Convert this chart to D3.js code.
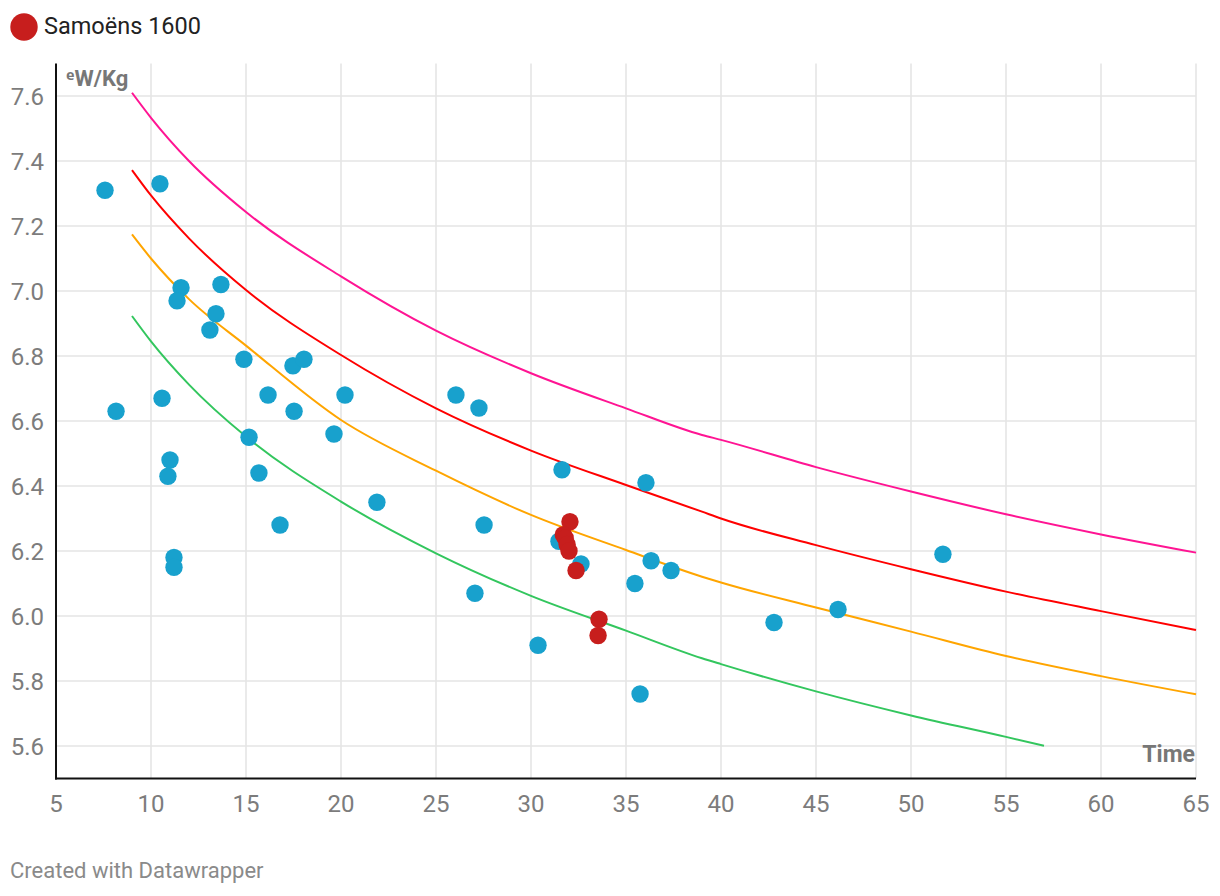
<!DOCTYPE html>
<html><head><meta charset="utf-8">
<script src="https://cdn.jsdelivr.net/npm/d3@7"></script>
<style>
body{margin:0;background:#fff;font-family:Roboto,"Noto Sans",sans-serif;}
</style></head>
<body><svg id="c" width="1220" height="896"></svg>
<script>
// ---- data ----
const xTicks = [5,10,15,20,25,30,35,40,45,50,55,60,65];
const yTicks = [5.6,5.8,6.0,6.2,6.4,6.6,6.8,7.0,7.2,7.4,7.6];
const blueX = [7.58,10.47,8.16,10.58,11.0,10.89,11.21,11.21,11.58,11.37,13.68,13.42,13.1,14.89,15.16,16.16,15.68,16.79,17.47,18.05,17.53,19.63,20.21,21.89,26.05,27.26,27.53,27.05,30.37,31.63,31.47,32.63,35.47,36.05,36.32,37.37,35.74,42.79,46.16,51.68];
const blueY = [7.31,7.33,6.63,6.67,6.48,6.43,6.18,6.15,7.01,6.97,7.02,6.93,6.88,6.79,6.55,6.68,6.44,6.28,6.77,6.79,6.63,6.56,6.68,6.35,6.68,6.64,6.28,6.07,5.91,6.45,6.23,6.16,6.10,6.41,6.17,6.14,5.76,5.98,6.02,6.19];
const redX = [32.05,31.7,31.8,31.9,32.0,32.37,33.58,33.53];
const redY = [6.29,6.25,6.24,6.22,6.20,6.14,5.99,5.94];
const curveX = [9,10,12,15,20,25,30,35,39,40,45,50,55,60,65];
const pinkY   = [7.61,7.533,7.40,7.243,7.045,6.878,6.747,6.639,6.557,6.542,6.458,6.383,6.313,6.251,6.195];
const redLineY= [7.372,7.294,7.162,7.003,6.803,6.639,6.509,6.403,6.321,6.30,6.218,6.144,6.075,6.015,5.957];
const orangeY = [7.174,7.10,6.975,6.832,6.603,6.447,6.311,6.203,6.121,6.103,6.026,5.952,5.877,5.815,5.759];
const greenX  = [9,10,12,15,20,25,30,35,39,40,45,50,55,57];
const greenY  = [6.923,6.845,6.712,6.552,6.352,6.193,6.062,5.955,5.870,5.852,5.768,5.694,5.628,5.601];
const legendLabel = "Samoëns 1600";

// ---- drawing ----
const svg = d3.select("#c");
const x = d3.scaleLinear().domain([5,65]).range([56,1196]);
const y = d3.scaleLinear().domain([5.5,7.7]).range([778.5,63.5]);

// gridlines
const g = svg.append("g");
g.selectAll(".vg").data(xTicks.slice(1)).join("line")
  .attr("x1",d=>x(d)).attr("x2",d=>x(d)).attr("y1",y(7.7)).attr("y2",y(5.5))
  .attr("stroke","#e5e5e5").attr("stroke-width",1.6);
g.selectAll(".hg").data(yTicks).join("line")
  .attr("x1",x(5)).attr("x2",x(65)).attr("y1",d=>y(d)).attr("y2",d=>y(d))
  .attr("stroke","#e5e5e5").attr("stroke-width",1.6);

// axes lines
svg.append("line").attr("x1",x(5)).attr("x2",x(5)).attr("y1",y(7.7)).attr("y2",y(5.5)+1).attr("stroke","#111").attr("stroke-width",2);
svg.append("line").attr("x1",x(5)-1).attr("x2",x(65)).attr("y1",y(5.5)).attr("y2",y(5.5)).attr("stroke","#111").attr("stroke-width",2);

// tick labels
svg.selectAll(".yt").data(yTicks).join("text")
  .attr("x",44).attr("y",d=>y(d)+8.5).attr("text-anchor","end")
  .attr("font-size",24).attr("fill","#7c7c7c").text(d=>d.toFixed(1));
svg.selectAll(".xt").data(xTicks).join("text")
  .attr("x",d=>x(d)).attr("y",812).attr("text-anchor","middle")
  .attr("font-size",24).attr("fill","#7c7c7c").text(d=>d);

// curves
const line = d3.line().x(d=>x(d[0])).y(d=>y(d[1])).curve(d3.curveMonotoneX);
const curves = [
  [curveX,pinkY,"#ff1493"],
  [curveX,redLineY,"#ff0000"],
  [curveX,orangeY,"#ffa500"],
  [greenX,greenY,"#33c65e"]
];
curves.forEach(([xs,ys,col])=>{
  svg.append("path").datum(xs.map((v,i)=>[v,ys[i]]))
    .attr("d",line).attr("fill","none").attr("stroke",col).attr("stroke-width",2);
});

// points
svg.selectAll(".bp").data(blueX.map((v,i)=>[v,blueY[i]])).join("circle")
  .attr("cx",d=>x(d[0])).attr("cy",d=>y(d[1])).attr("r",8.7)
  .attr("fill","#18a1cd");
svg.selectAll(".rp").data(redX.map((v,i)=>[v,redY[i]])).join("circle")
  .attr("cx",d=>x(d[0])).attr("cy",d=>y(d[1])).attr("r",8.7)
  .attr("fill","#c71e1d");

// axis titles
svg.append("text").attr("x",66).attr("y",86).attr("font-size",22).attr("font-weight","bold")
  .attr("fill","#777").text("ᵉW/Kg");
svg.append("text").attr("x",1195).attr("y",762).attr("text-anchor","end").attr("font-size",23)
  .attr("font-weight","bold").attr("fill","#777").text("Time");

// legend
svg.append("circle").attr("cx",24).attr("cy",27).attr("r",13.7).attr("fill","#c71e1d");
svg.append("text").attr("x",44).attr("y",34).attr("font-size",23.5).attr("fill","#222").text(legendLabel);

// footer
svg.append("text").attr("x",10).attr("y",878).attr("font-size",22).attr("fill","#8a8a8a").text("Created with Datawrapper");
</script></body></html>
